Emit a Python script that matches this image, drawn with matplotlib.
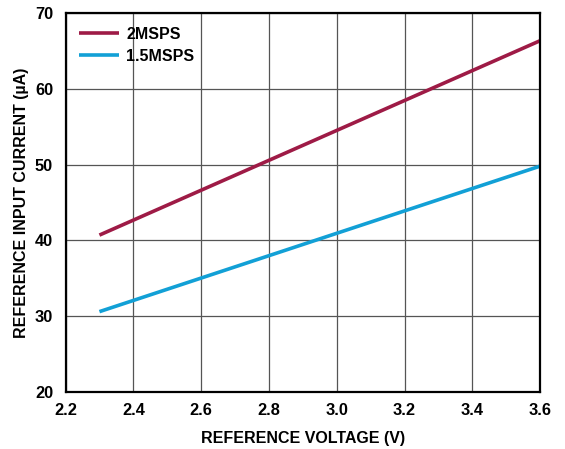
import matplotlib
matplotlib.use("Agg")
import matplotlib.pyplot as plt

plt.rcParams['font.family'] = ['Liberation Sans', 'DejaVu Sans']
plt.rcParams['font.weight'] = 'bold'

# data
voltage = [2.3, 3.6]
current_2msps = [40.7, 66.35]
current_15msps = [30.6, 49.8]

fig = plt.figure(figsize=(5.65, 4.49), dpi=100)
ax = fig.add_axes([0.116, 0.127, 0.840, 0.844])

ax.plot(voltage, current_2msps, color='#9e1b46', lw=2.6, label='2MSPS', solid_capstyle='butt')
ax.plot(voltage, current_15msps, color='#12a0d6', lw=2.6, label='1.5MSPS', solid_capstyle='butt')

ax.set_xlim(2.2, 3.6)
ax.set_ylim(20, 70)
ax.set_xticks([2.2, 2.4, 2.6, 2.8, 3.0, 3.2, 3.4, 3.6])
ax.set_xticklabels(['2.2', '2.4', '2.6', '2.8', '3.0', '3.2', '3.4', '3.6'])
ax.set_yticks([20, 30, 40, 50, 60, 70])
ax.grid(True, color='#555555', lw=0.9)
ax.set_axisbelow(True)
for s in ax.spines.values():
    s.set_linewidth(1.6)
    s.set_color('black')
ax.tick_params(length=0, labelsize=11.8)
ax.tick_params(axis='x', pad=8)
ax.tick_params(axis='y', pad=9)

ax.set_xlabel('REFERENCE VOLTAGE (V)', fontsize=11.5, fontweight='bold', labelpad=9)
ax.set_ylabel('REFERENCE INPUT CURRENT (µA)', fontsize=11.5, fontweight='bold', labelpad=4)

ax.legend(loc='upper left', frameon=False, fontsize=11.5, handlelength=2.5,
          borderaxespad=0.5, borderpad=0.35, handletextpad=0.45, labelspacing=0.45)

fig.savefig('out.png', dpi=100)
